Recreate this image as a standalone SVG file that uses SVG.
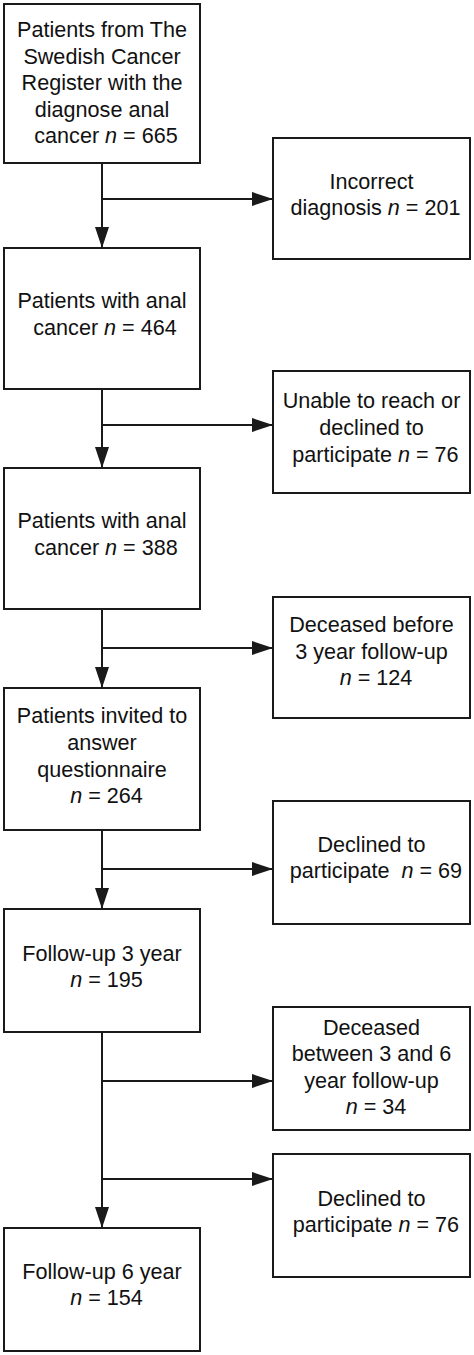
<svg xmlns="http://www.w3.org/2000/svg" width="474" height="1355" viewBox="0 0 474 1355">
<style>
.box{fill:#fff;stroke:#1a1a1a;stroke-width:2}
.t{font-family:"Liberation Sans",Arial,sans-serif;font-size:21.6px;fill:#111;text-anchor:middle}
.i{font-style:italic}
.c{stroke:#1a1a1a;stroke-width:2;fill:none}
</style>
<defs>
<marker id="ah" markerUnits="userSpaceOnUse" markerWidth="21" markerHeight="14" refX="21" refY="7" orient="auto">
<path d="M0,0 L21,7 L0,14 z" fill="#1a1a1a"/>
</marker>
</defs>
<rect width="474" height="1355" fill="#fff"/>
<g id="connectors">
<line class="c" x1="102" y1="163" x2="102" y2="248" marker-end="url(#ah)"/>
<line class="c" x1="102" y1="199" x2="273" y2="199" marker-end="url(#ah)"/>
<line class="c" x1="102" y1="389" x2="102" y2="468" marker-end="url(#ah)"/>
<line class="c" x1="102" y1="425" x2="273" y2="425" marker-end="url(#ah)"/>
<line class="c" x1="102" y1="609" x2="102" y2="688" marker-end="url(#ah)"/>
<line class="c" x1="102" y1="648" x2="273" y2="648" marker-end="url(#ah)"/>
<line class="c" x1="102" y1="830" x2="102" y2="909" marker-end="url(#ah)"/>
<line class="c" x1="102" y1="869" x2="273" y2="869" marker-end="url(#ah)"/>
<line class="c" x1="102" y1="1032" x2="102" y2="1228" marker-end="url(#ah)"/>
<line class="c" x1="102" y1="1081" x2="273" y2="1081" marker-end="url(#ah)"/>
<line class="c" x1="102" y1="1179" x2="273" y2="1179" marker-end="url(#ah)"/>
</g>
<g id="n1">
<rect class="box" x="4" y="4" width="196" height="159"/>
<text class="t" x="102" y="37">Patients from The</text>
<text class="t" x="102" y="64">Swedish Cancer</text>
<text class="t" x="102" y="90">Register with the</text>
<text class="t" x="102" y="117">diagnose anal</text>
<text class="t" x="106" y="143">cancer <tspan class="i">n</tspan> = 665</text>
</g>
<g id="n2">
<rect class="box" x="273" y="138" width="197" height="121"/>
<text class="t" x="371.5" y="189">Incorrect</text>
<text class="t" x="375.5" y="215">diagnosis <tspan class="i">n</tspan> = 201</text>
</g>
<g id="n3">
<rect class="box" x="4" y="248" width="196" height="141"/>
<text class="t" x="102" y="308">Patients with anal</text>
<text class="t" x="105" y="335">cancer <tspan class="i">n</tspan> = 464</text>
</g>
<g id="n4">
<rect class="box" x="273" y="371" width="197" height="122"/>
<text class="t" x="371.5" y="408">Unable to reach or</text>
<text class="t" x="371.5" y="435">declined to</text>
<text class="t" x="375.5" y="462">participate <tspan class="i">n</tspan> = 76</text>
</g>
<g id="n5">
<rect class="box" x="4" y="468" width="196" height="141"/>
<text class="t" x="102" y="528">Patients with anal</text>
<text class="t" x="106" y="555">cancer <tspan class="i">n</tspan> = 388</text>
</g>
<g id="n6">
<rect class="box" x="273" y="597" width="197" height="121"/>
<text class="t" x="371.5" y="632">Deceased before</text>
<text class="t" x="371.5" y="658.5">3 year follow-up</text>
<text class="t" x="376" y="685"><tspan class="i">n</tspan> = 124</text>
</g>
<g id="n7">
<rect class="box" x="4" y="688" width="196" height="142"/>
<text class="t" x="102" y="723">Patients invited to</text>
<text class="t" x="102" y="750">answer</text>
<text class="t" x="102" y="777">questionnaire</text>
<text class="t" x="106.5" y="803"><tspan class="i">n</tspan> = 264</text>
</g>
<g id="n8">
<rect class="box" x="273" y="801" width="197" height="123"/>
<text class="t" x="371.5" y="852">Declined to</text>
<text class="t" x="376" y="878">participate <tspan class="i" dx="6">n</tspan> = 69</text>
</g>
<g id="n9">
<rect class="box" x="4" y="909" width="196" height="123"/>
<text class="t" x="102" y="961">Follow-up 3 year</text>
<text class="t" x="106.5" y="987"><tspan class="i">n</tspan> = 195</text>
</g>
<g id="n10">
<rect class="box" x="273" y="1007" width="197" height="123"/>
<text class="t" x="371.5" y="1035">Deceased</text>
<text class="t" x="371.5" y="1061">between 3 and 6</text>
<text class="t" x="371.5" y="1088">year follow-up</text>
<text class="t" x="376" y="1114"><tspan class="i">n</tspan> = 34</text>
</g>
<g id="n11">
<rect class="box" x="273" y="1154" width="197" height="123"/>
<text class="t" x="371.5" y="1206">Declined to</text>
<text class="t" x="376" y="1232">participate <tspan class="i">n</tspan> = 76</text>
</g>
<g id="n12">
<rect class="box" x="4" y="1228" width="196" height="123"/>
<text class="t" x="102" y="1279">Follow-up 6 year</text>
<text class="t" x="106.5" y="1305"><tspan class="i">n</tspan> = 154</text>
</g>
</svg>
